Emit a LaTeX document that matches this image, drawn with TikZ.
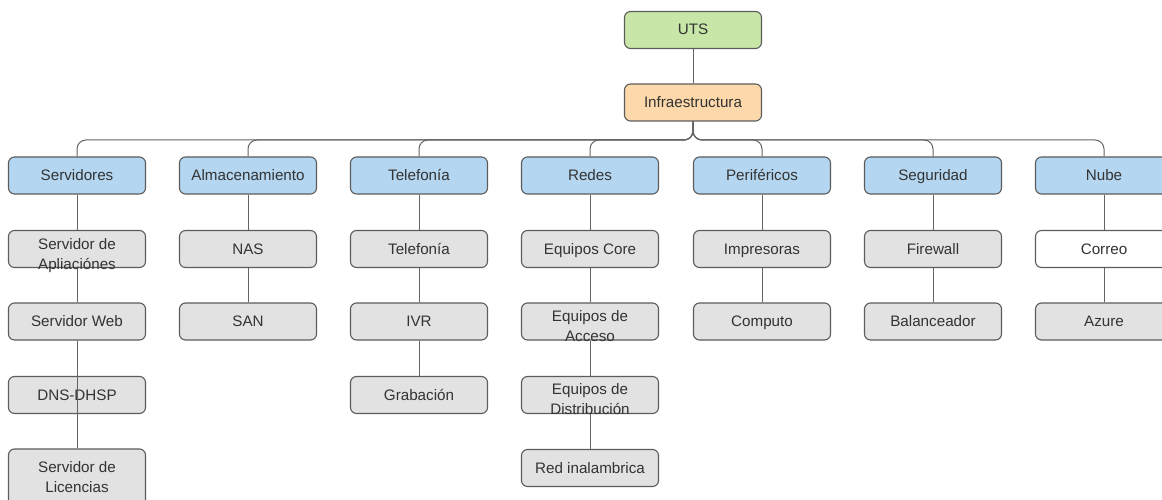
\documentclass[tikz,border=0pt]{standalone}
\usepackage{fontspec}
\setmainfont{Liberation Sans}
\pgfdeclarelayer{back}
\pgfdeclarelayer{bg}
\pgfsetlayers{back,bg,main}
\definecolor{cgreen}{RGB}{199,230,168}
\definecolor{corange}{RGB}{252,216,170}
\definecolor{cblue}{RGB}{180,214,240}
\definecolor{cgray}{RGB}{226,226,226}
\definecolor{cborder}{RGB}{92,92,92}
\definecolor{ctext}{RGB}{51,51,51}
\definecolor{cline}{RGB}{100,100,100}
\newcommand{\twol}[3]{\raisebox{#1}[0pt][0pt]{\begin{tabular}{@{}c@{}}#2\\#3\end{tabular}}}
\tikzset{
  box/.style={draw=cborder, line width=1.1pt, rounded corners=6pt, minimum width=137pt,
    minimum height=37pt, inner sep=0pt, text=ctext, text height=10pt, text depth=0pt,
    font=\fontsize{15.2}{20}\selectfont},
  topbox/.style={box, fill=cgreen},
  infbox/.style={box, fill=corange},
  catbox/.style={box, fill=cblue},
  leafbox/.style={box, fill=cgray},
  whitebox/.style={box, fill=white},
  conn/.style={draw=cline, line width=1pt},
  bus/.style={conn, rounded corners=9pt}
}
\begin{document}
\begin{tikzpicture}[x=1pt,y=-1pt]
\clip (0,0) rectangle (1162,500);
\begin{pgfonlayer}{back}
\fill[white] (0,0) rectangle (1162,500);
\end{pgfonlayer}
% top
\node[topbox] (uts) at (693,30) {UTS};
\node[infbox] (inf) at (693,102.5) {Infraestructura};
\coordinate (busy) at (693,140);
% level 1
\node[catbox] (serv) at (77,175.5) {Servidores};
\node[catbox] (alm) at (248,175.5) {Almacenamiento};
\node[catbox] (tel) at (419,175.5) {Telefonía};
\node[catbox] (red) at (590,175.5) {Redes};
\node[catbox] (per) at (762,175.5) {Periféricos};
\node[catbox] (seg) at (933,175.5) {Seguridad};
\node[catbox] (nube) at (1104,175.5) {Nube};
% Servidores
\node[leafbox] (apl) at (77,249) {\twol{-5pt}{Servidor de}{Apliaciónes}};
\node[leafbox] (web) at (77,321.5) {Servidor Web};
\node[leafbox] (dns) at (77,395) {DNS-DHSP};
\node[leafbox, minimum height=62pt] (lic) at (77,480) {\twol{3pt}{Servidor de}{Licencias}};
% Almacenamiento
\node[leafbox] (nas) at (248,249) {NAS};
\node[leafbox] (san) at (248,321.5) {SAN};
% Telefonia
\node[leafbox] (tel2) at (419,249) {Telefonía};
\node[leafbox] (ivr) at (419,321.5) {IVR};
\node[leafbox] (grab) at (419,395) {Grabación};
% Redes
\node[leafbox] (core) at (590,249) {Equipos Core};
\node[leafbox] (acc) at (590,321.5) {\twol{-5pt}{Equipos de}{Acceso}};
\node[leafbox] (dist) at (590,395) {\twol{-4pt}{Equipos de}{Distribución}};
\node[leafbox] (wifi) at (590,468) {Red inalambrica};
% Perifericos
\node[leafbox] (imp) at (762,249) {Impresoras};
\node[leafbox] (comp) at (762,321.5) {Computo};
% Seguridad
\node[leafbox] (fw) at (933,249) {Firewall};
\node[leafbox] (bal) at (933,321.5) {Balanceador};
% Nube
\node[whitebox] (correo) at (1104,249) {Correo};
\node[leafbox] (azure) at (1104,321.5) {Azure};

\begin{pgfonlayer}{bg}
\draw[conn] (uts) -- (inf);
\foreach \c in {serv,alm,tel,red,per,seg,nube}{
  \draw[bus] (inf.south) |- (\c.north |- busy) -- (\c.north);
}
\draw[conn] (serv) -- (apl);
\draw[conn] (apl) -- (web);
\draw[conn] (web) -- (dns);
\draw[conn] (alm) -- (nas);
\draw[conn] (nas) -- (san);
\draw[conn] (tel) -- (tel2);
\draw[conn] (tel2) -- (ivr);
\draw[conn] (ivr) -- (grab);
\draw[conn] (red) -- (core);
\draw[conn] (core) -- (acc);
\draw[conn] (acc) -- (dist);
\draw[conn] (dist) -- (wifi);
\draw[conn] (per) -- (imp);
\draw[conn] (imp) -- (comp);
\draw[conn] (seg) -- (fw);
\draw[conn] (fw) -- (bal);
\draw[conn] (nube) -- (correo);
\draw[conn] (correo) -- (azure);
\end{pgfonlayer}
\draw[conn] (web.south) -- (lic.north);
\end{tikzpicture}
\end{document}
